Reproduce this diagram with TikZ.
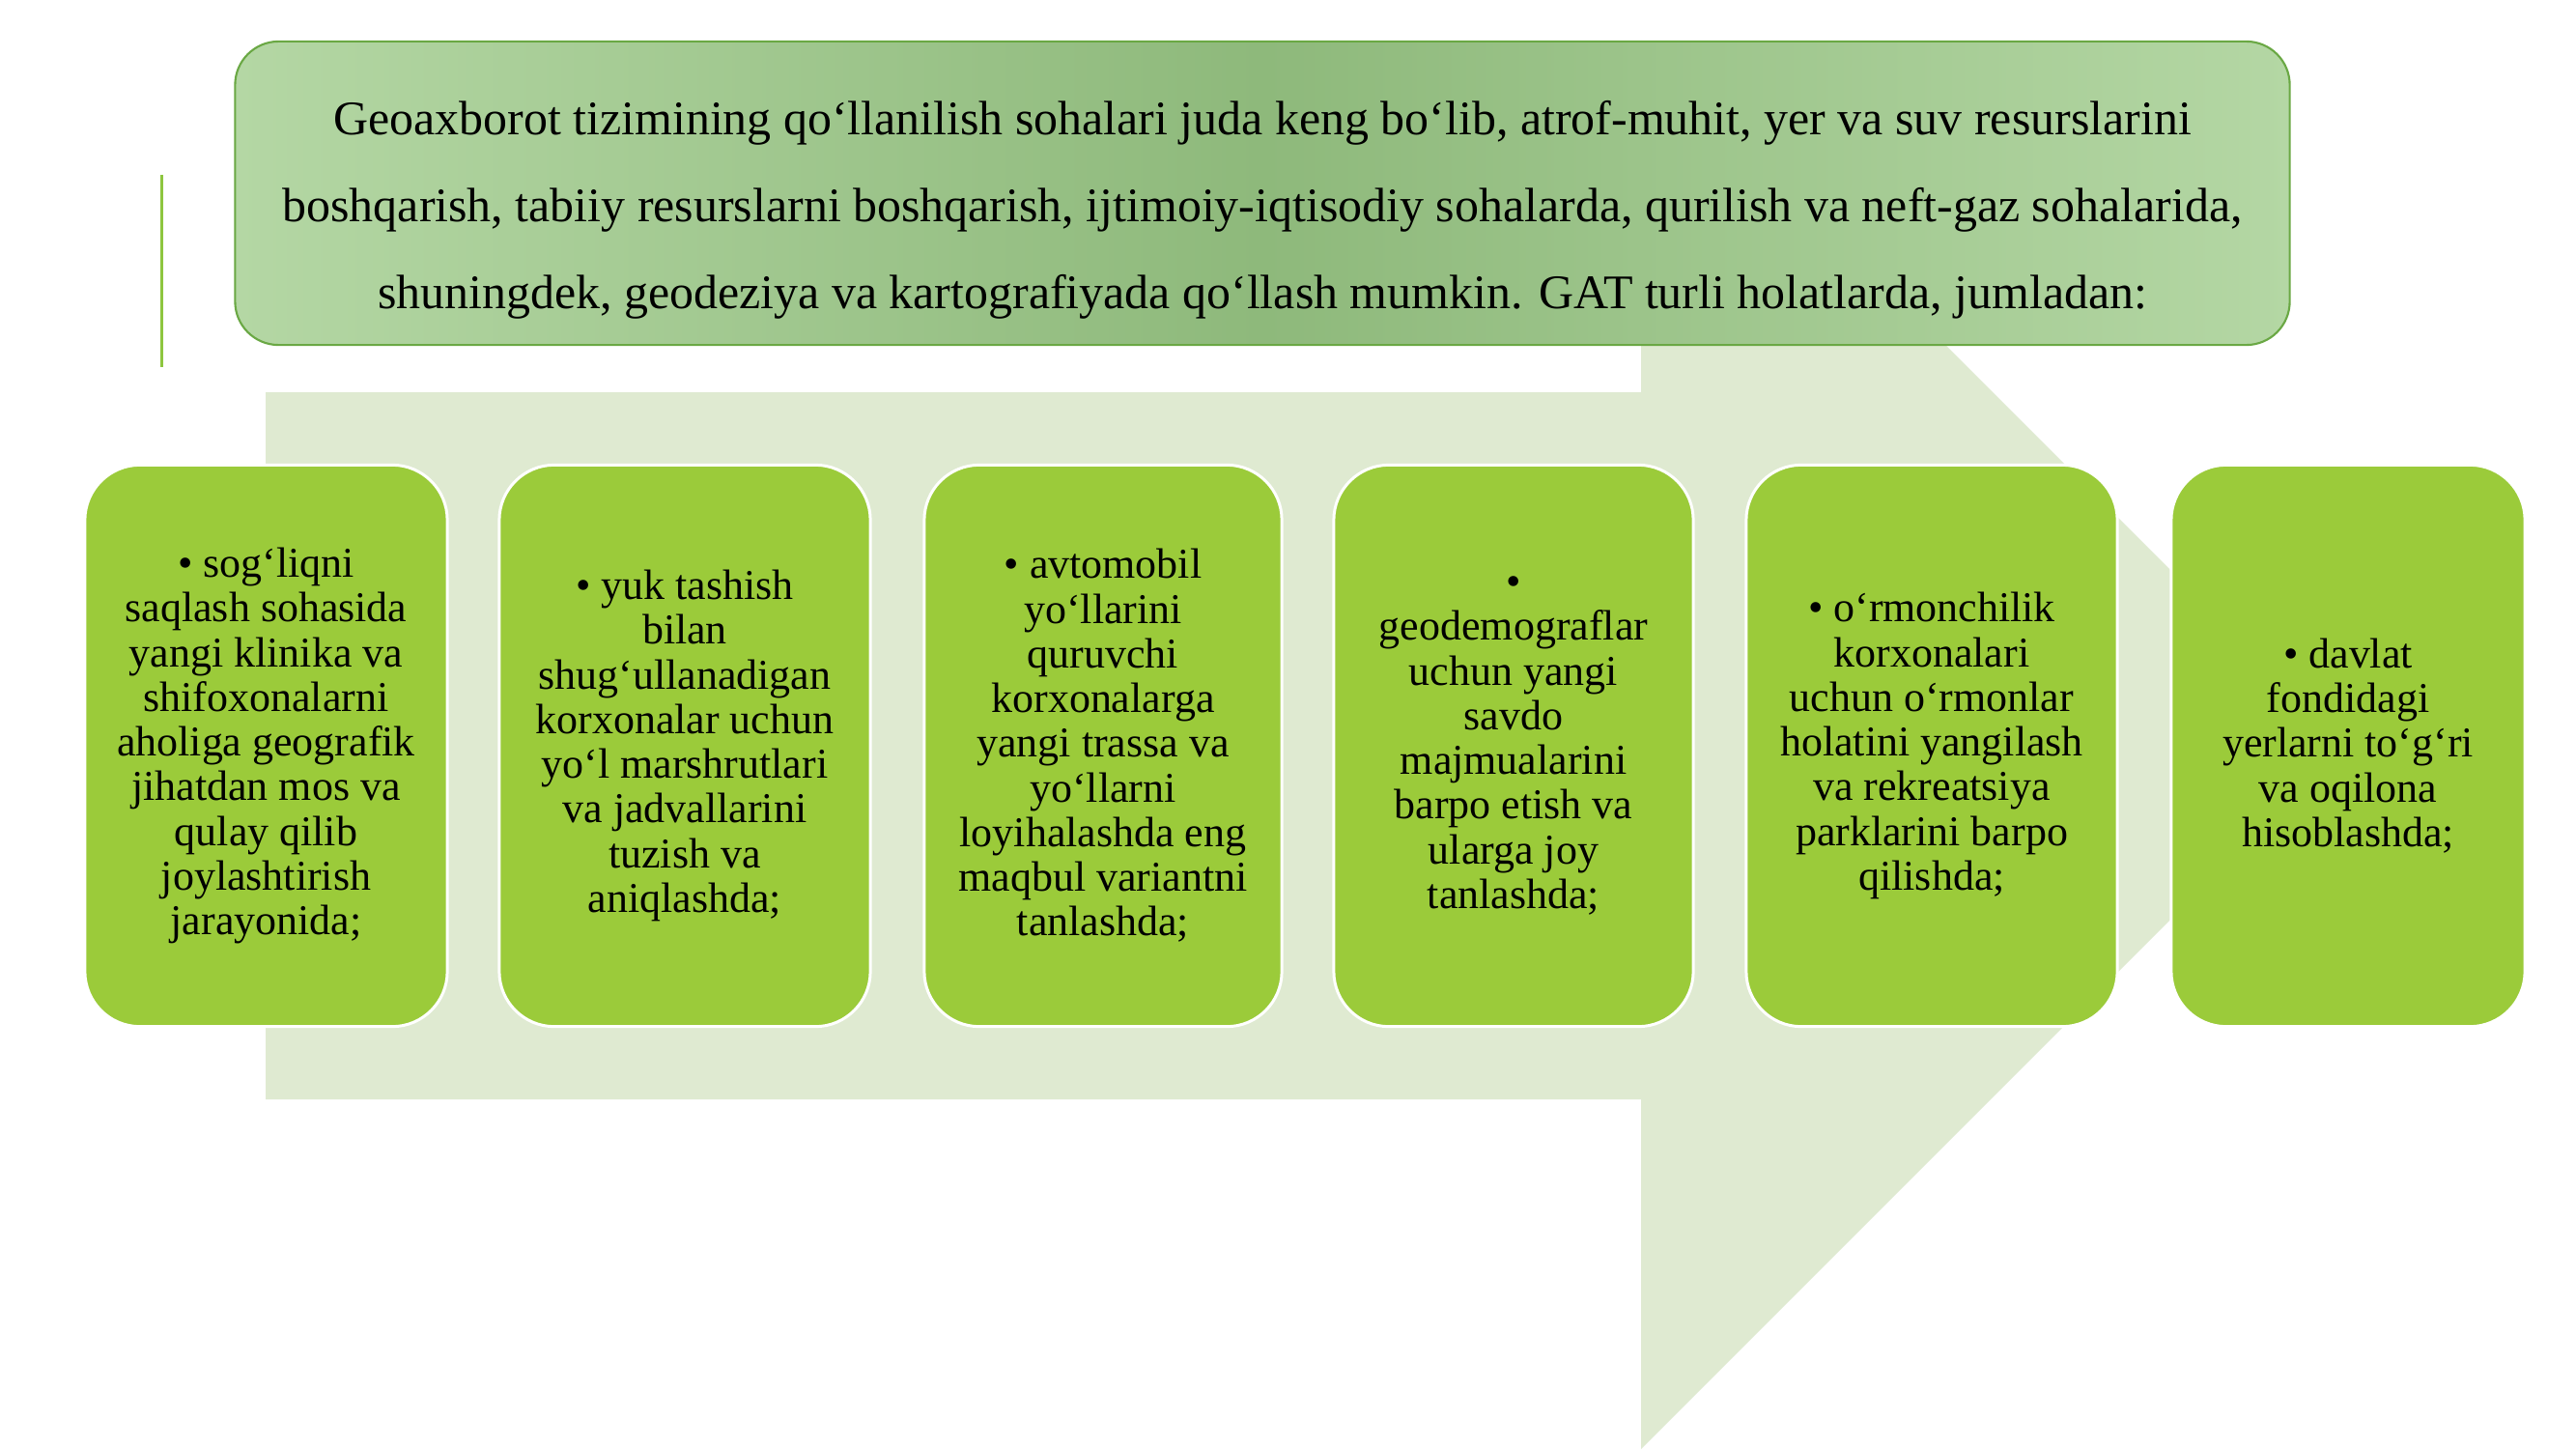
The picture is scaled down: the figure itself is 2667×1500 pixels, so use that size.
\documentclass[tikz,border=0pt]{standalone}
\usepackage{fontspec}
\setmainfont{Liberation Serif}
\definecolor{arrowbg}{RGB}{223,234,209}
\definecolor{boxgreen}{RGB}{155,203,58}
\definecolor{toplight}{RGB}{180,215,164}
\definecolor{topdark}{RGB}{142,185,123}
\definecolor{topborder}{RGB}{106,168,68}
\definecolor{linegreen}{RGB}{141,198,63}
\tikzset{
  itembox/.style={draw=white, line width=0.85pt, fill=boxgreen, rounded corners=0.57cm,
    minimum height=5.81cm, align=center, inner sep=0pt,
    font=\fontsize{12.5}{13.15}\selectfont},
  headbox/.style={draw=topborder, line width=0.6pt, rounded corners=0.45cm,
    left color=toplight, right color=toplight, middle color=topdark,
    minimum width=21.26cm, minimum height=3.14cm, inner sep=0pt},
  headtext/.style={align=center, inner sep=0pt, font=\fontsize{14.2}{25.6}\selectfont},
}
\begin{document}
\begin{tikzpicture}[x=0.01cm, y=-0.01cm]
\useasboundingbox (0,0) rectangle (2667,1500);
\fill[white] (0,0) rectangle (2667,1500);
% big background arrow
\fill[arrowbg] (275,406) -- (1699,406) -- (1699,42) -- (2428,771) -- (1699,1500)
  -- (1699,1138) -- (275,1138) -- cycle;
% left accent line
\coordinate (la) at (167,181);
\coordinate (lb) at (167,380);
\draw[linegreen, line width=0.03cm] (la) -- (lb);
% header
\node[headbox] (head) at (1307,200) {};
\node[headtext] (headtxt) at ([yshift=-0.17cm]head.center) {Geoaxborot tizimining qo‘llanilish sohalari juda keng bo‘lib, atrof-muhit, yer va suv resurslarini\\
boshqarish, tabiiy resurslarni boshqarish, ijtimoiy-iqtisodiy sohalarda, qurilish va neft-gaz sohalarida,\\
shuningdek, geodeziya va kartografiyada qo‘llash mumkin. GAT turli holatlarda, jumladan:};
% items
\node[itembox, minimum width=3.75cm] (b1) at (275.5,772) {• sog‘liqni\\saqlash sohasida\\yangi klinika va\\shifoxonalarni\\aholiga geografik\\jihatdan mos va\\qulay qilib\\joylashtirish\\jarayonida;};
\node[itembox, minimum width=3.84cm] (b2) at (709,772) {• yuk tashish\\bilan\\shug‘ullanadigan\\korxonalar uchun\\yo‘l marshrutlari\\va jadvallarini\\tuzish va\\aniqlashda;};
\node[itembox, minimum width=3.70cm] (b3) at (1142,772) {• avtomobil\\yo‘llarini\\quruvchi\\korxonalarga\\yangi trassa va\\yo‘llarni\\loyihalashda eng\\maqbul variantni\\tanlashda;};
\node[itembox, minimum width=3.72cm] (b4) at (1567,772) {•\\geodemograflar\\uchun yangi\\savdo\\majmualarini\\barpo etish va\\ularga joy\\tanlashda;};
\node[itembox, minimum width=3.84cm] (b5) at (2000,772) {• o‘rmonchilik\\korxonalari\\uchun o‘rmonlar\\holatini yangilash\\va rekreatsiya\\parklarini barpo\\qilishda;};
\node[itembox, minimum width=3.66cm] (b6) at (2431,772) {• davlat\\fondidagi\\yerlarni to‘g‘ri\\va oqilona\\hisoblashda;};
\end{tikzpicture}
\end{document}
